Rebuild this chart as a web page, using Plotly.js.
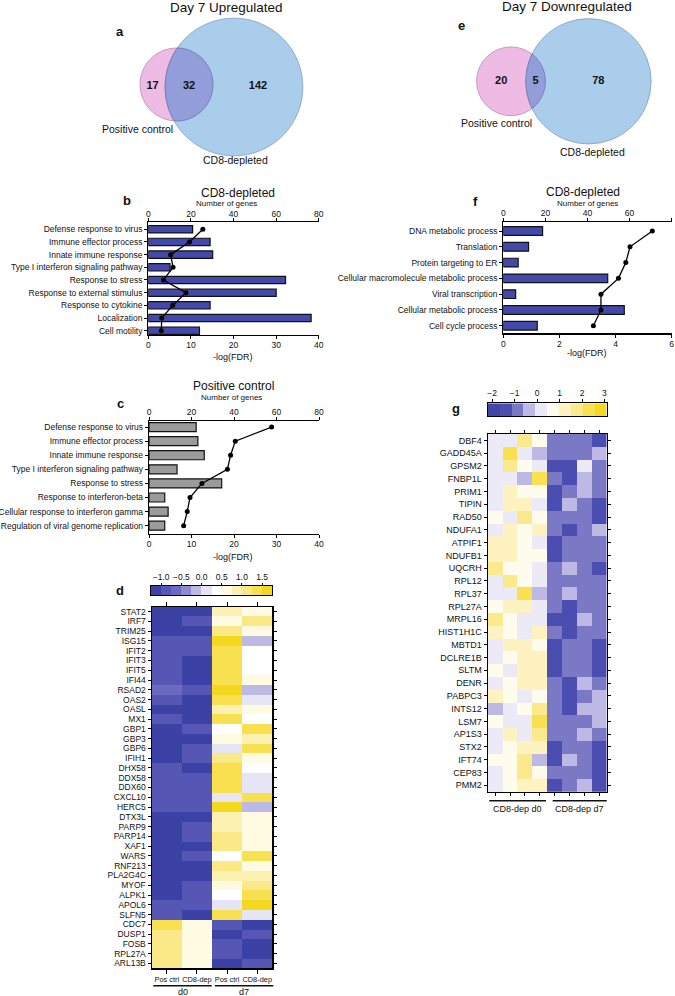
<!DOCTYPE html>
<html><head><meta charset="utf-8">
<script src="https://cdn.plot.ly/plotly-3.0.1.min.js"></script>
<style>html,body{margin:0;padding:0;background:#fff}#chart{width:675px;height:996px}</style>
</head><body><div id="chart"></div>
<script>
// ---------------- DATA ----------------
// Venn counts: [Positive control only, shared, CD8-depleted only]
const vennUpCounts = [17, 32, 142];
const vennDownCounts = [20, 5, 78];
const vennSetNames = ['Positive control', 'CD8-depleted'];

// Panel b: CD8-depleted, upregulated GO terms
const bTerms = ['Defense response to virus','Immune effector process','Innate immune response','Type I interferon signaling pathway','Response to stress','Response to external stimulus','Response to cytokine','Localization','Cell motility'];
const bLogFDR = [10.4, 14.5, 15.1, 5.1, 32.2, 30.0, 14.5, 38.2, 12.0];
const bGenes = [25.6, 19.3, 10.5, 11.6, 7.1, 17.7, 11.5, 6.3, 6.1];

// Panel c: Positive control
const cTerms = ['Defense response to virus','Immune effector process','Innate immune response','Type I interferon signaling pathway','Response to stress','Response to interferon-beta','Cellular response to interferon gamma','Regulation of viral genome replication'];
const cLogFDR = [11.1, 11.5, 13.0, 6.6, 17.1, 3.7, 4.5, 3.7];
const cGenes = [57.7, 40.6, 38.4, 36.9, 24.9, 19.3, 18.0, 16.3];

// Panel f: CD8-depleted, downregulated GO terms
const fTerms = ['DNA metabolic process','Translation','Protein targeting to ER','Cellular macromolecule metabolic process','Viral transcription','Cellular metabolic process','Cell cycle process'];
const fLogFDR = [1.40, 0.90, 0.53, 3.72, 0.44, 4.31, 1.21];
const fGenes = [70.8, 60.2, 58.2, 54.7, 46.4, 46.4, 42.8];

// Panel d heatmap
const dGenes = ['STAT2','IRF7','TRIM25','ISG15','IFIT2','IFIT3','IFIT5','IFI44','RSAD2','OAS2','OASL','MX1','GBP1','GBP3','GBP6','IFIH1','DHX58','DDX58','DDX60','CXCL10','HERC5','DTX3L','PARP9','PARP14','XAF1','WARS','RNF213','PLA2G4C','MYOF','ALPK1','APOL6','SLFN5','CDC7','DUSP1','FOSB','RPL27A','ARL13B'];
const dColLabels = ['Pos ctrl','CD8-dep','Pos ctrl','CD8-dep'];
const dGroups = ['d0','d7'];
const dPosD0 = [-1.15,-1.15,-1.15,-0.9,-0.9,-0.9,-0.9,-0.9,-0.65,-0.9,-1.15,-0.9,-1.15,-1.15,-1.15,-1.15,-0.9,-0.9,-0.9,-0.9,-0.9,-1.15,-1.15,-1.15,-1.15,-1.15,-1.15,-1.15,-1.15,-1.15,-0.9,-0.9,1.35,1.1,1.1,1.1,1.1];
const dCD8D0 = [-1.15,-0.9,-1.15,-0.9,-0.9,-1.15,-1.15,-1.15,-0.9,-1.15,-1.15,-1.15,-0.9,-1.15,-0.9,-0.9,-1.15,-0.9,-0.9,-0.9,-0.9,-1.15,-0.9,-0.9,-1.15,-0.9,-1.15,-1.15,-0.9,-0.9,-0.9,-1.15,0.6,0.6,0.6,0.6,0.6];
const dPosD7 = [0.85,0.6,1.1,1.6,1.35,1.35,1.35,1.35,1.6,1.35,0.85,1.35,0.35,0.6,0.1,1.1,1.35,1.35,1.35,0.1,1.6,0.85,0.85,1.1,1.1,0.35,1.1,0.85,0.6,0.35,0.1,1.35,-0.9,-1.15,-0.9,-0.9,-1.15];
const dCD8D7 = [0.6,1.1,0.6,-0.15,0.35,0.35,0.35,0.6,-0.15,0.1,0.6,0.35,1.35,0.85,1.35,0.6,0.35,0.1,0.1,1.35,-0.15,0.6,0.6,0.6,0.6,1.35,0.6,0.85,1.1,1.35,1.6,0.1,-1.15,-0.9,-1.15,-1.15,-0.9];
const dLevels = [-1.125,-0.875,-0.625,-0.375,-0.125,0.125,0.375,0.625,0.875,1.125,1.375,1.625];
const dColors = ['#3c41a5','#5656b5','#6b69c0','#8d8bd0','#bcb9e4','#e6e5f5','#ffffff','#fffbe3','#fdf1b2','#fbe887','#f8e050','#f4d81e'];
const dTickVals = [-1, -0.5, 0, 0.5, 1, 1.5];
const dTickText = ['\u22121.0','\u22120.5','0.0','0.5','1.0','1.5'];

// Panel g heatmap
const gGenes = ['DBF4','GADD45A','GPSM2','FNBP1L','PRIM1','TIPIN','RAD50','NDUFA1','ATPIF1','NDUFB1','UQCRH','RPL12','RPL37','RPL27A','MRPL16','HIST1H1C','MBTD1','DCLRE1B','SLTM','DENR','PABPC3','INTS12','LSM7','AP1S3','STX2','IFT74','CEP83','PMM2'];
const gGroups = ['CD8-dep d0','CD8-dep d7'];
const gD0a = [0.15,0.15,0.15,0.15,0.15,0.15,0.7,0.15,1.25,1.25,1.8,0.15,0.15,0.7,1.8,1.25,0.15,0.15,0.7,0.15,1.25,-0.35,0.7,0.15,0.15,0.7,0.15,0.15];
const gD0b = [0.15,2.4,1.8,0.15,1.25,1.25,0.15,1.25,1.25,1.25,0.7,1.8,0.15,1.25,0.7,0.7,1.25,0.7,0.15,0.7,0.7,0.15,0.15,1.25,0.7,0.7,0.7,0.7];
const gD0c = [1.8,0.15,0.7,-0.35,0.7,1.25,1.8,0.7,0.7,0.7,0.7,0.7,2.4,1.25,0.15,0.15,1.25,1.25,1.25,1.25,0.15,0.7,0.15,0.15,1.25,1.8,1.8,1.25];
const gD0d = [0.7,-0.35,0.15,2.4,0.7,0.15,0.7,1.25,0.15,0.7,0.15,0.15,-0.35,0.15,0.15,1.25,0.7,1.25,1.25,1.25,0.7,1.8,2.4,1.8,1.25,-0.35,0.7,1.25];
const gD7a = [-0.9,-0.9,-1.6,-0.9,-1.6,-1.6,-0.9,-0.9,-1.6,-1.6,-0.9,-0.9,-0.9,-0.9,-1.6,-0.9,-1.6,-1.6,-1.6,-0.9,-0.9,-0.9,-0.9,-0.9,-1.6,-1.6,-0.9,-1.6];
const gD7b = [-0.9,-0.9,-1.6,-1.6,-0.9,-0.35,-0.9,-1.6,-0.9,-0.9,-0.35,-0.9,-0.35,-1.6,-1.6,-1.6,-0.9,-0.9,-0.9,-1.6,-1.6,-1.6,-0.9,-0.9,-0.9,-0.35,-0.9,-0.9];
const gD7c = [-0.9,-0.9,0.15,-0.35,-0.35,-0.9,-0.9,-0.9,-0.9,-0.9,-0.9,-0.9,-0.9,-0.9,-0.35,-0.9,-0.9,-0.9,-0.9,-0.35,-0.9,-0.35,-0.9,-0.35,-0.9,-0.9,-0.9,-0.35];
const gD7d = [-1.6,-0.35,-0.9,-0.9,-0.9,-1.6,-1.6,-0.35,-0.9,-0.9,-1.6,-0.9,-0.9,-0.9,-0.9,-0.9,-1.6,-1.6,-1.6,-0.9,-0.35,-0.35,-0.35,-0.9,-1.6,-1.6,-1.6,-1.6];
const gLevels = [-1.935,-1.405,-0.875,-0.345,0.185,0.715,1.245,1.775,2.305,2.835];
const gColors = ['#4343a8','#4c4db0','#7b78c6','#bdb9e4','#eceaf7','#fffcee','#fdf2c0','#fbe98e','#f8e04e','#f5d920'];
const gTickVals = [-2,-1,0,1,2,3];
const gTickText = ['\u22122','\u22121','0','1','2','3'];

// ---------------- HELPERS ----------------
const FONT = 'Liberation Sans, Arial, Helvetica, sans-serif';
const W = 675, H = 996;
const xd = (a, b) => [a / W, b / W];
const yd = (top, bottom) => [1 - bottom / H, 1 - top / H];

function stepScale(colors) {
  const n = colors.length, s = [];
  colors.forEach((c, i) => { s.push([i / n, c]); s.push([(i + 1) / n, c]); });
  return s;
}

const axBase = {showgrid:false, zeroline:false, showline:true, linecolor:'#000', linewidth:1.2,
  ticks:'outside', tickcolor:'#000', tickwidth:1, ticklen:4,
  tickfont:{family:FONT, size:8.5, color:'#111'}, fixedrange:true};

const traces = [];
const shapes = [];
const annotations = [];
function ann(text, x, y, size, extra) {
  annotations.push(Object.assign({text, x, y, xref:'x', yref:'y', showarrow:false,
    xanchor:'center', yanchor:'middle', font:{family:FONT, size, color:'#111'}}, extra || {}));
}

// ---------------- VENN ----------------
function venn(counts, c1, c2, k, colors) {
  const n1 = counts[0] + counts[1], n2 = counts[1] + counts[2];
  const r1 = k * Math.sqrt(n1), r2 = k * Math.sqrt(n2);
  shapes.push({type:'circle', xref:'x', yref:'y', x0:c1[0]-r1, x1:c1[0]+r1, y0:c1[1]-r1, y1:c1[1]+r1,
    fillcolor:colors.pink, line:{color:colors.pinkLine, width:0.8}, layer:'below'});
  shapes.push({type:'circle', xref:'x', yref:'y', x0:c2[0]-r2, x1:c2[0]+r2, y0:c2[1]-r2, y1:c2[1]+r2,
    fillcolor:colors.blue, line:{color:colors.blueLine, width:0.8}, layer:'below'});
  const dx = c2[0]-c1[0], dy = c2[1]-c1[1], d = Math.hypot(dx, dy);
  const a = (r1*r1 - r2*r2 + d*d) / (2*d);
  const al1 = Math.acos(a / r1), al2 = Math.acos((d - a) / r2);
  const phi = Math.atan2(dy, dx);
  const pts = [], N = 48;
  for (let i = 0; i <= N; i++) { const t = phi - al1 + 2*al1*i/N; pts.push([c1[0]+r1*Math.cos(t), c1[1]+r1*Math.sin(t)]); }
  for (let i = 0; i <= N; i++) { const t = phi + Math.PI - al2 + 2*al2*i/N; pts.push([c2[0]+r2*Math.cos(t), c2[1]+r2*Math.sin(t)]); }
  shapes.push({type:'path', xref:'x', yref:'y', path:'M ' + pts.map(p => p[0].toFixed(2)+','+p[1].toFixed(2)).join(' L ') + ' Z',
    fillcolor:colors.lens, line:{color:colors.lensLine, width:0.8}, layer:'below'});
  const l1 = c1[0]-r1, l2 = c2[0]-r2, rr1 = c1[0]+r1, rr2 = c2[0]+r2, yc = (c1[1]+c2[1])/2;
  traces.push({type:'scatter', mode:'text', xaxis:'x', yaxis:'y', hoverinfo:'skip', showlegend:false,
    x:[(l1+l2)/2, (l2+rr1)/2, (rr1+rr2)/2], y:[yc, yc, yc],
    text:counts.map(v => '<b>' + v + '</b>'), textfont:{family:FONT, size:11, color:'#111'}});
}
const vennColors = {pink:'#eebbe5', pinkLine:'#b98ab2', blue:'#abcdec', blueLine:'#7f9dbf', lens:'#929dd9', lensLine:'#6f74a8'};
venn(vennUpCounts, [176.5, 84.5], [234, 87], 5.22, vennColors);
venn(vennDownCounts, [511, 81.3], [588.5, 81.3], 6.88, vennColors);
ann('Day 7 Upregulated', 226.7, 7, 13.5);
ann('Day 7 Downregulated', 566.7, 6, 13.5);
ann(vennSetNames[0], 137.3, 129.3, 10.5);
ann(vennSetNames[1], 235, 160, 10.5);
ann(vennSetNames[0], 496.7, 122.7, 10.5);
ann(vennSetNames[1], 592.3, 151.7, 10.5);

// panel letters
[['a',120,31],['e',461.7,25],['b',126.7,200],['f',475,201],['c',120,403],['d',120,590],['g',456,408]]
  .forEach(l => ann('<b>' + l[0] + '</b>', l[1], l[2], 13));

// ---------------- BAR PANELS ----------------
const layout = {
  width: W, height: H, margin:{l:0, r:0, t:0, b:0},
  paper_bgcolor:'#fff', plot_bgcolor:'rgba(0,0,0,0)', showlegend:false, hovermode:false,
  font:{family:FONT, color:'#111'},
  xaxis:{domain:[0,1], range:[0, W], visible:false, fixedrange:true, anchor:'y'},
  yaxis:{domain:[0,1], range:[H, 0], visible:false, fixedrange:true, anchor:'x'}
};

function barPanel(cfg) {
  const xb = 'x' + cfg.xi, xt = 'x' + (cfg.xi + 1), yy = 'y' + cfg.yi;
  traces.push({type:'bar', orientation:'h', x:cfg.fdr, y:cfg.terms, xaxis:xb, yaxis:yy, width:cfg.barW,
    marker:{color:cfg.color, line:{color:'#111', width:1.2}}, hoverinfo:'skip'});
  traces.push({type:'scatter', mode:'lines+markers', x:cfg.genes, y:cfg.terms, xaxis:xt, yaxis:yy,
    line:{color:'#000', width:1.3}, marker:{color:'#000', size:5}, hoverinfo:'skip'});
  layout['xaxis' + cfg.xi] = Object.assign({}, axBase, {domain:xd(cfg.x0, cfg.x1), anchor:yy,
    range:[0, cfg.fdrMax], tick0:0, dtick:cfg.fdrStep, ticklen:3, ticklabelstandoff:-1});
  layout['xaxis' + (cfg.xi + 1)] = Object.assign({}, axBase, {overlaying:xb, side:'top', anchor:yy,
    range:[0, 80], tick0:0, dtick:20, ticklen:3, ticklabelstandoff:-2});
  layout['yaxis' + cfg.yi] = Object.assign({}, axBase, {domain:yd(cfg.y0, cfg.y1), anchor:xb,
    type:'category', categoryorder:'array', categoryarray:cfg.terms, range:cfg.yrange, ticklen:3});
  ann(cfg.title, cfg.tx, cfg.ty, 12);
  ann('Number of genes', cfg.nx, cfg.ny, 8);
  ann('-log(FDR)', cfg.lx, cfg.ly, 9);
}
barPanel({xi:2, yi:2, terms:bTerms, fdr:bLogFDR, genes:bGenes, color:'#4349aa', barW:0.58,
  x0:148.3, x1:318.8, y0:222.3, y1:335, fdrMax:40, fdrStep:10, yrange:[8.34, -0.55],
  title:'CD8-depleted', tx:238.3, ty:192.5, nx:226, ny:203.5, lx:233.3, ly:356.5});
barPanel({xi:4, yi:3, terms:cTerms, fdr:cLogFDR, genes:cGenes, color:'#9b9b9b', barW:0.64,
  x0:149, x1:319, y0:420.7, y1:534, fdrMax:40, fdrStep:10, yrange:[7.59, -0.45],
  title:'Positive control', tx:233.3, ty:386, nx:231.7, ny:397, lx:233.3, ly:557});
barPanel({xi:6, yi:4, terms:fTerms, fdr:fLogFDR, genes:fGenes, color:'#4349aa', barW:0.55,
  x0:503.3, x1:671.7, y0:221.7, y1:333.3, fdrMax:6, fdrStep:2, yrange:[6.48, -0.59],
  title:'CD8-depleted', tx:583.3, ty:192, nx:587.3, ny:203.5, lx:587.3, ly:353});

// ---------------- HEATMAP d ----------------
const dScale = stepScale(dColors);
const dZ = dGenes.map((g, i) => [dPosD0[i], dCD8D0[i], dPosD7[i], dCD8D7[i]]);
traces.push({type:'heatmap', z:dZ, x:[0,1,2,3], y:dGenes.map((g,i)=>i), xaxis:'x8', yaxis:'y5',
  colorscale:dScale, zmin:-1.25, zmax:1.75, showscale:false, hoverinfo:'skip'});
layout.xaxis8 = Object.assign({}, axBase, {domain:xd(151.7, 272.3), anchor:'y5', range:[-0.5, 3.5],
  tickvals:[0,1,2,3], ticktext:dColLabels, mirror:'ticks', ticklen:4, tickangle:0,
  tickfont:{family:FONT, size:7.4, color:'#111'}});
layout.yaxis5 = Object.assign({}, axBase, {domain:yd(606.7, 968.3), anchor:'x8', range:[dGenes.length-0.5, -0.5],
  tickvals:dGenes.map((g,i)=>i), ticktext:dGenes, mirror:'ticks', ticklen:3});
// colour key d
traces.push({type:'heatmap', z:[dLevels], x:dLevels, y:[0], xaxis:'x9', yaxis:'y6',
  colorscale:dScale, zmin:-1.25, zmax:1.75, showscale:false, hoverinfo:'skip'});
layout.xaxis9 = Object.assign({}, axBase, {domain:xd(151, 272.3), anchor:'y6', side:'top', range:[-1.25, 1.75],
  tickvals:dTickVals, ticktext:dTickText, ticklen:2, mirror:true, linewidth:1});
layout.yaxis6 = Object.assign({}, axBase, {domain:yd(586, 595), anchor:'x9', range:[-0.5, 0.5],
  showticklabels:false, ticks:'', mirror:true, linewidth:1});
// group brackets d
[[153.3, 211.7], [215, 273.3]].forEach((b, i) => {
  shapes.push({type:'line', xref:'x', yref:'y', x0:b[0], x1:b[1], y0:985.7, y1:985.7, line:{color:'#111', width:1.5}});
  ann(dGroups[i], (b[0]+b[1])/2, 992, 9);
});

// ---------------- HEATMAP g ----------------
const gScale = stepScale(gColors);
const gZ = gGenes.map((g, i) => [gD0a[i], gD0b[i], gD0c[i], gD0d[i], gD7a[i], gD7b[i], gD7c[i], gD7d[i]]);
traces.push({type:'heatmap', z:gZ, x:[0,1,2,3,4,5,6,7], y:gGenes.map((g,i)=>i), xaxis:'x10', yaxis:'y7',
  colorscale:gScale, zmin:-2.2, zmax:3.1, showscale:false, hoverinfo:'skip'});
layout.xaxis10 = Object.assign({}, axBase, {domain:xd(487.7, 606.7), anchor:'y7', range:[-0.5, 7.5],
  tickvals:[0,1,2,3,4,5,6,7], showticklabels:false, mirror:'ticks', ticklen:3});
layout.yaxis7 = Object.assign({}, axBase, {domain:yd(434, 791.7), anchor:'x10', range:[gGenes.length-0.5, -0.5],
  tickvals:gGenes.map((g,i)=>i), ticktext:gGenes, mirror:'ticks', ticklen:3,
  tickfont:{family:FONT, size:9, color:'#111'}});
traces.push({type:'heatmap', z:[gLevels], x:gLevels, y:[0], xaxis:'x11', yaxis:'y8',
  colorscale:gScale, zmin:-2.2, zmax:3.1, showscale:false, hoverinfo:'skip'});
layout.xaxis11 = Object.assign({}, axBase, {domain:xd(487.7, 606.7), anchor:'y8', side:'top', range:[-2.2, 3.1],
  tickvals:gTickVals, ticktext:gTickText, ticklen:3, mirror:true, linewidth:1});
layout.yaxis8 = Object.assign({}, axBase, {domain:yd(403.3, 416), anchor:'x11', range:[-0.5, 0.5],
  showticklabels:false, ticks:'', mirror:true, linewidth:1});
[[489.3, 546], [552.7, 606.7]].forEach((b, i) => {
  shapes.push({type:'line', xref:'x', yref:'y', x0:b[0], x1:b[1], y0:800.7, y1:800.7, line:{color:'#111', width:1.5}});
  ann(gGroups[i], (b[0]+b[1])/2, 808.5, 9);
});

layout.shapes = shapes;
layout.annotations = annotations;
Plotly.newPlot('chart', traces, layout, {displayModeBar:false, staticPlot:true});
</script>
</body></html>
